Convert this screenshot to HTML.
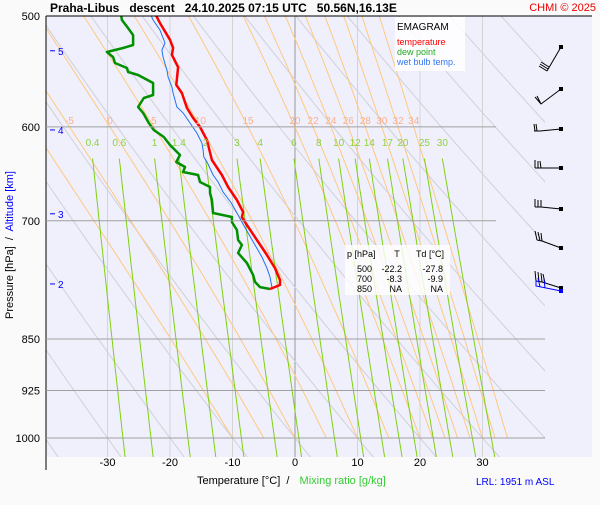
<!DOCTYPE html>
<html><head><meta charset="utf-8"><style>
body{margin:0;background:#fafafa;width:600px;height:500px;overflow:hidden;font-family:"Liberation Sans",sans-serif}
svg text{font-family:"Liberation Sans",sans-serif;white-space:pre}
</style></head><body>
<svg id="chart" width="600" height="500" xmlns="http://www.w3.org/2000/svg">
<defs><clipPath id="pc"><rect x="46" y="16" width="499" height="441"/></clipPath></defs>
<rect x="46" y="16" width="546" height="441" fill="#f0f0fc"/>
<g id="grid" clip-path="url(#pc)"></g>
<g id="marks"></g>
<text x="50" y="12" font-size="12" font-weight="bold" fill="#000" xml:space="preserve">Praha-Libus   descent   24.10.2025 07:15 UTC   50.56N,16.13E</text>
<text x="596" y="11" font-size="11" fill="#e00" text-anchor="end">CHMI © 2025</text>
<line x1="46" y1="16" x2="592" y2="16" stroke="#000"/>
<line x1="46" y1="16" x2="46" y2="470" stroke="#000"/>
<g>
<rect x="395" y="17" width="70" height="54" fill="#fff" opacity="0.85"/>
<text x="397" y="30" font-size="10">EMAGRAM</text>
<text x="397" y="45" font-size="9" fill="#f00">temperature</text>
<text x="397" y="55" font-size="9" fill="#2a2">dew point</text>
<text x="397" y="65" font-size="9" fill="#37e">wet bulb temp.</text>
</g>
<g font-size="9">
<rect x="345" y="245" width="105" height="50" fill="#fff" opacity="0.8"/>
<text x="347" y="257">p [hPa]</text><text x="397" y="257" text-anchor="middle">T</text><text x="430" y="257" text-anchor="middle">Td [°C]</text>
<text x="372" y="272" text-anchor="end">500</text><text x="402" y="272" text-anchor="end">-22.2</text><text x="443" y="272" text-anchor="end">-27.8</text>
<text x="372" y="282" text-anchor="end">700</text><text x="402" y="282" text-anchor="end">-8.3</text><text x="443" y="282" text-anchor="end">-9.9</text>
<text x="372" y="292" text-anchor="end">850</text><text x="402" y="292" text-anchor="end">NA</text><text x="443" y="292" text-anchor="end">NA</text>
</g>
<g stroke="#000" fill="none" stroke-width="1">
<path d="M561,47 L547,71 M547,71 L539,66 M548,69 L540,64 M549,67 L541,62"/>
<path d="M561,89 L541,104 L535,97 M541,104 L537,96"/>
<path d="M561,129 L540,131 L534,131 M535,131 L534,124 M537,131 L536,124"/>
<path d="M561,168 L541,168 L535,168 M535,168 L535,160 M538,168 L538,161 M541,168 L540,161"/>
<path d="M561,209 L541,207 L535,207 M535,207 L535,199 M538,207 L538,200 M541,207 L541,200"/>
<path d="M561,248 L542,241 L537,240 M537,240 L535,231 M540,241 L538,232 M542,241 L541,233"/>
<path d="M561,288 L542,282 L536,281 M536,281 L535,271 M539,282 L538,272 M542,282 L541,273 M545,283 L543,274"/>
<path stroke="#00f" d="M561,291 L536,286 L536,280 M540,287 L538,278 M545,288 L544,279"/>
<rect x="559" y="45" width="4" height="4" fill="#000" stroke="none"/>
<rect x="559" y="87" width="4" height="4" fill="#000" stroke="none"/>
<rect x="559" y="127" width="4" height="4" fill="#000" stroke="none"/>
<rect x="559" y="166" width="4" height="4" fill="#000" stroke="none"/>
<rect x="559" y="207" width="4" height="4" fill="#000" stroke="none"/>
<rect x="559" y="246" width="4" height="4" fill="#000" stroke="none"/>
<rect x="559" y="286" width="4" height="4" fill="#000" stroke="none"/>
<rect x="559" y="289" width="4" height="4" fill="#00f" stroke="none"/>
</g>
<text transform="translate(13,245) rotate(-90)" font-size="11" text-anchor="middle" xml:space="preserve">Pressure [hPa]  /  <tspan fill="#00f">Altitude [km]</tspan></text>
<text x="197" y="484" font-size="11" xml:space="preserve">Temperature [°C]  /  <tspan fill="#3c3" dx="4">Mixing ratio [g/kg]</tspan></text>
<text x="476" y="485" font-size="10" fill="#00f">LRL: 1951 m ASL</text>
</svg>
<script>
const pLevels=[500,600,700,850,925,1000];
const tTicks=[-30,-20,-10,0,10,20,30];
const altKm=[5,4,3,2];
const altP=[529.5,603,692,776.5];
const thetaW=[-10,-5,0,5,10,15,20,22,24,26,28,30,32,34];
const thetaWLabels=[-5,0,5,10,15,20,22,24,26,28,30,32,34];
const mixRatios=[0.4,0.6,1,1.4,2,3,4,6,8,10,12,14,17,20,25,30];
const tempP=[500,506,520,527,533,544,560,567.5,581.6,591.3,600,613,633.5,649.3,662.2,676.5,690,695.7,704.9,722.4,740.4,756.5,771.5,777.9,783];
const tempT=[-22.2,-21.6,-20.0,-19.5,-19.7,-18.7,-19.0,-18.1,-17.3,-16.3,-15.2,-14.1,-13.3,-11.7,-10.7,-9.3,-8.3,-8.5,-7.7,-6.1,-4.5,-3.2,-2.4,-2.4,-4.0];
const dewP=[500,503.4,510.1,516,524.5,527.1,530.6,535,540.2,544.7,548.3,551,558.3,569.4,572.2,580.7,586.4,596.2,603.1,610,618.1,628.3,635.6,640.8,646.1,649.3,656.8,662.2,668.8,676.5,691.1,695.7,701.4,710.7,722.4,728.4,738,750.2,765.1,773.9,780.5,783];
const dewT=[-27.8,-27.7,-26.7,-25.9,-25.9,-27.5,-30.1,-29.1,-28.8,-26.9,-26.7,-25.1,-22.7,-22.7,-24.2,-25.1,-24.3,-23.4,-22.6,-21.0,-20.0,-18.4,-19.0,-17.6,-17.9,-15.5,-15.2,-13.6,-13.6,-13.3,-13.1,-10.1,-10.1,-9.3,-9.1,-8.5,-9.1,-7.7,-6.7,-6.4,-5.6,-4.0];
const wbP=[500,503.4,511.8,522.8,528.8,535,546.5,552.8,561.9,567.5,580.7,586.4,596.2,606.1,616.1,623.2,630.4,636.6,649.3,656.8,667.7,679.8,693.4,701.4,714.2,728.4,742.9,756.5,767.7,780.5];
const wbT=[-23.0,-22.7,-21.6,-20.8,-21.3,-21.1,-20.5,-20.3,-19.7,-19.5,-18.9,-17.9,-16.8,-15.7,-14.9,-14.7,-14.6,-14.0,-13.1,-12.3,-11.5,-10.2,-9.1,-8.5,-7.5,-6.4,-5.3,-4.5,-4.0,-3.7];

const NS='http://www.w3.org/2000/svg';
const X=t=>295+t*6.25;
const Y=p=>438-Math.log(1000/p)*609;
const grid=document.getElementById('grid'), marks=document.getElementById('marks'), svg=document.getElementById('chart');
function mk(tag,attrs,parent){const e=document.createElementNS(NS,tag);for(const k in attrs)e.setAttribute(k,attrs[k]);parent.appendChild(e);return e;}
function pathD(ps,ts){return ps.map((p,i)=>(i?'L':'M')+X(ts[i]).toFixed(1)+','+Y(p).toFixed(1)).join('');}
tTicks.forEach(t=>{
 const l=mk('line',{x1:X(t),x2:X(t),y1:16,y2:457,stroke:t===0?'#999':'#d4d4d4','stroke-width':1},grid);
 
 
 const tx=mk('text',{x:X(t),y:466,'font-size':11,'text-anchor':'middle'},svg);
 tx.textContent=t;
 
 
});
for(let th=223.15;th<=433.15;th+=10){
 const ps=[],ts=[];for(let p=480;p<=1060;p+=10){ps.push(p);ts.push(th*Math.pow(p/1000,0.2857)-273.15);}
 const l=mk('path',{d:pathD(ps,ts),fill:'none',stroke:'#d0d0d8','stroke-width':1},grid);
 
 
}
function es(T){return 6.112*Math.exp(17.67*T/(T+243.5));}
thetaW.forEach(tw=>{
 let T=tw+273.15,p=1000;const ps=[1000],ts=[tw];
 const dp=-5;
 while(p>480){
  const Tc=T-273.15,rs=0.622*es(Tc)/(p-es(Tc));
  const L=2.5e6,Rd=287,cp=1004;
  const g=(Rd*T+L*rs)/(p*(cp+L*L*rs*0.622/(Rd*T*T)));
  T+=g*dp;p+=dp;ps.push(p);ts.push(T-273.15);
 }
 const l=mk('path',{d:pathD(ps,ts),fill:'none',stroke:'#ffc880','stroke-width':1},grid);
 
 
 if(thetaWLabels.includes(tw)){
  let i=ps.findIndex(v=>v<=600);
  const tx=mk('text',{x:X(ts[i]),y:124,'font-size':10,'text-anchor':'middle',fill:'#f8b090'},svg);
  tx.textContent=tw;
  
  
 }
});
function tdFromW(w,p){const e=w*p/(622+w);const a=Math.log(e/6.112);return 243.5*a/(17.67-a);}
mixRatios.forEach(w=>{
 const ps=[],ts=[];for(let p=632;p<=1060;p+=8){ps.push(p);ts.push(tdFromW(w,p));}
 const l=mk('path',{d:pathD(ps,ts),fill:'none',stroke:'#80d010','stroke-width':1},grid);
 
 
 const tx=mk('text',{x:X(tdFromW(w,632)),y:146,'font-size':10,'text-anchor':'middle',fill:'#90d040'},svg);
 tx.textContent=w;
 
 
});
pLevels.forEach(p=>{
 if(p!==500){
  const l=mk('line',{x1:46,x2:p>=850?545:496,y1:Y(p),y2:Y(p),stroke:'#a0a0a0','stroke-width':1},grid.parentNode);
  
  
 }
 const tx=mk('text',{x:40,y:Y(p)+4,'font-size':11,'text-anchor':'end'},svg);
 tx.textContent=p;
 
 
});
altKm.forEach((k,i)=>{
 const y=Y(altP[i]);
 const l=mk('line',{x1:50,x2:55,y1:y,y2:y,stroke:'#00f'},svg);
 
 
 const tx=mk('text',{x:58,y:y+4,'font-size':10,fill:'#00f'},svg);
 tx.textContent=k;
 
 
});
const wb=mk('path',{d:pathD(wbP,wbT),fill:'none',stroke:'#2070f0','stroke-width':1},marks);


const dw=mk('path',{d:pathD(dewP,dewT),fill:'none',stroke:'#009000','stroke-width':2.5,'stroke-linejoin':'round'},marks);


const tl=mk('path',{d:pathD(tempP,tempT),fill:'none',stroke:'#f00','stroke-width':2.5,'stroke-linejoin':'round'},marks);


</script>
</body></html>
